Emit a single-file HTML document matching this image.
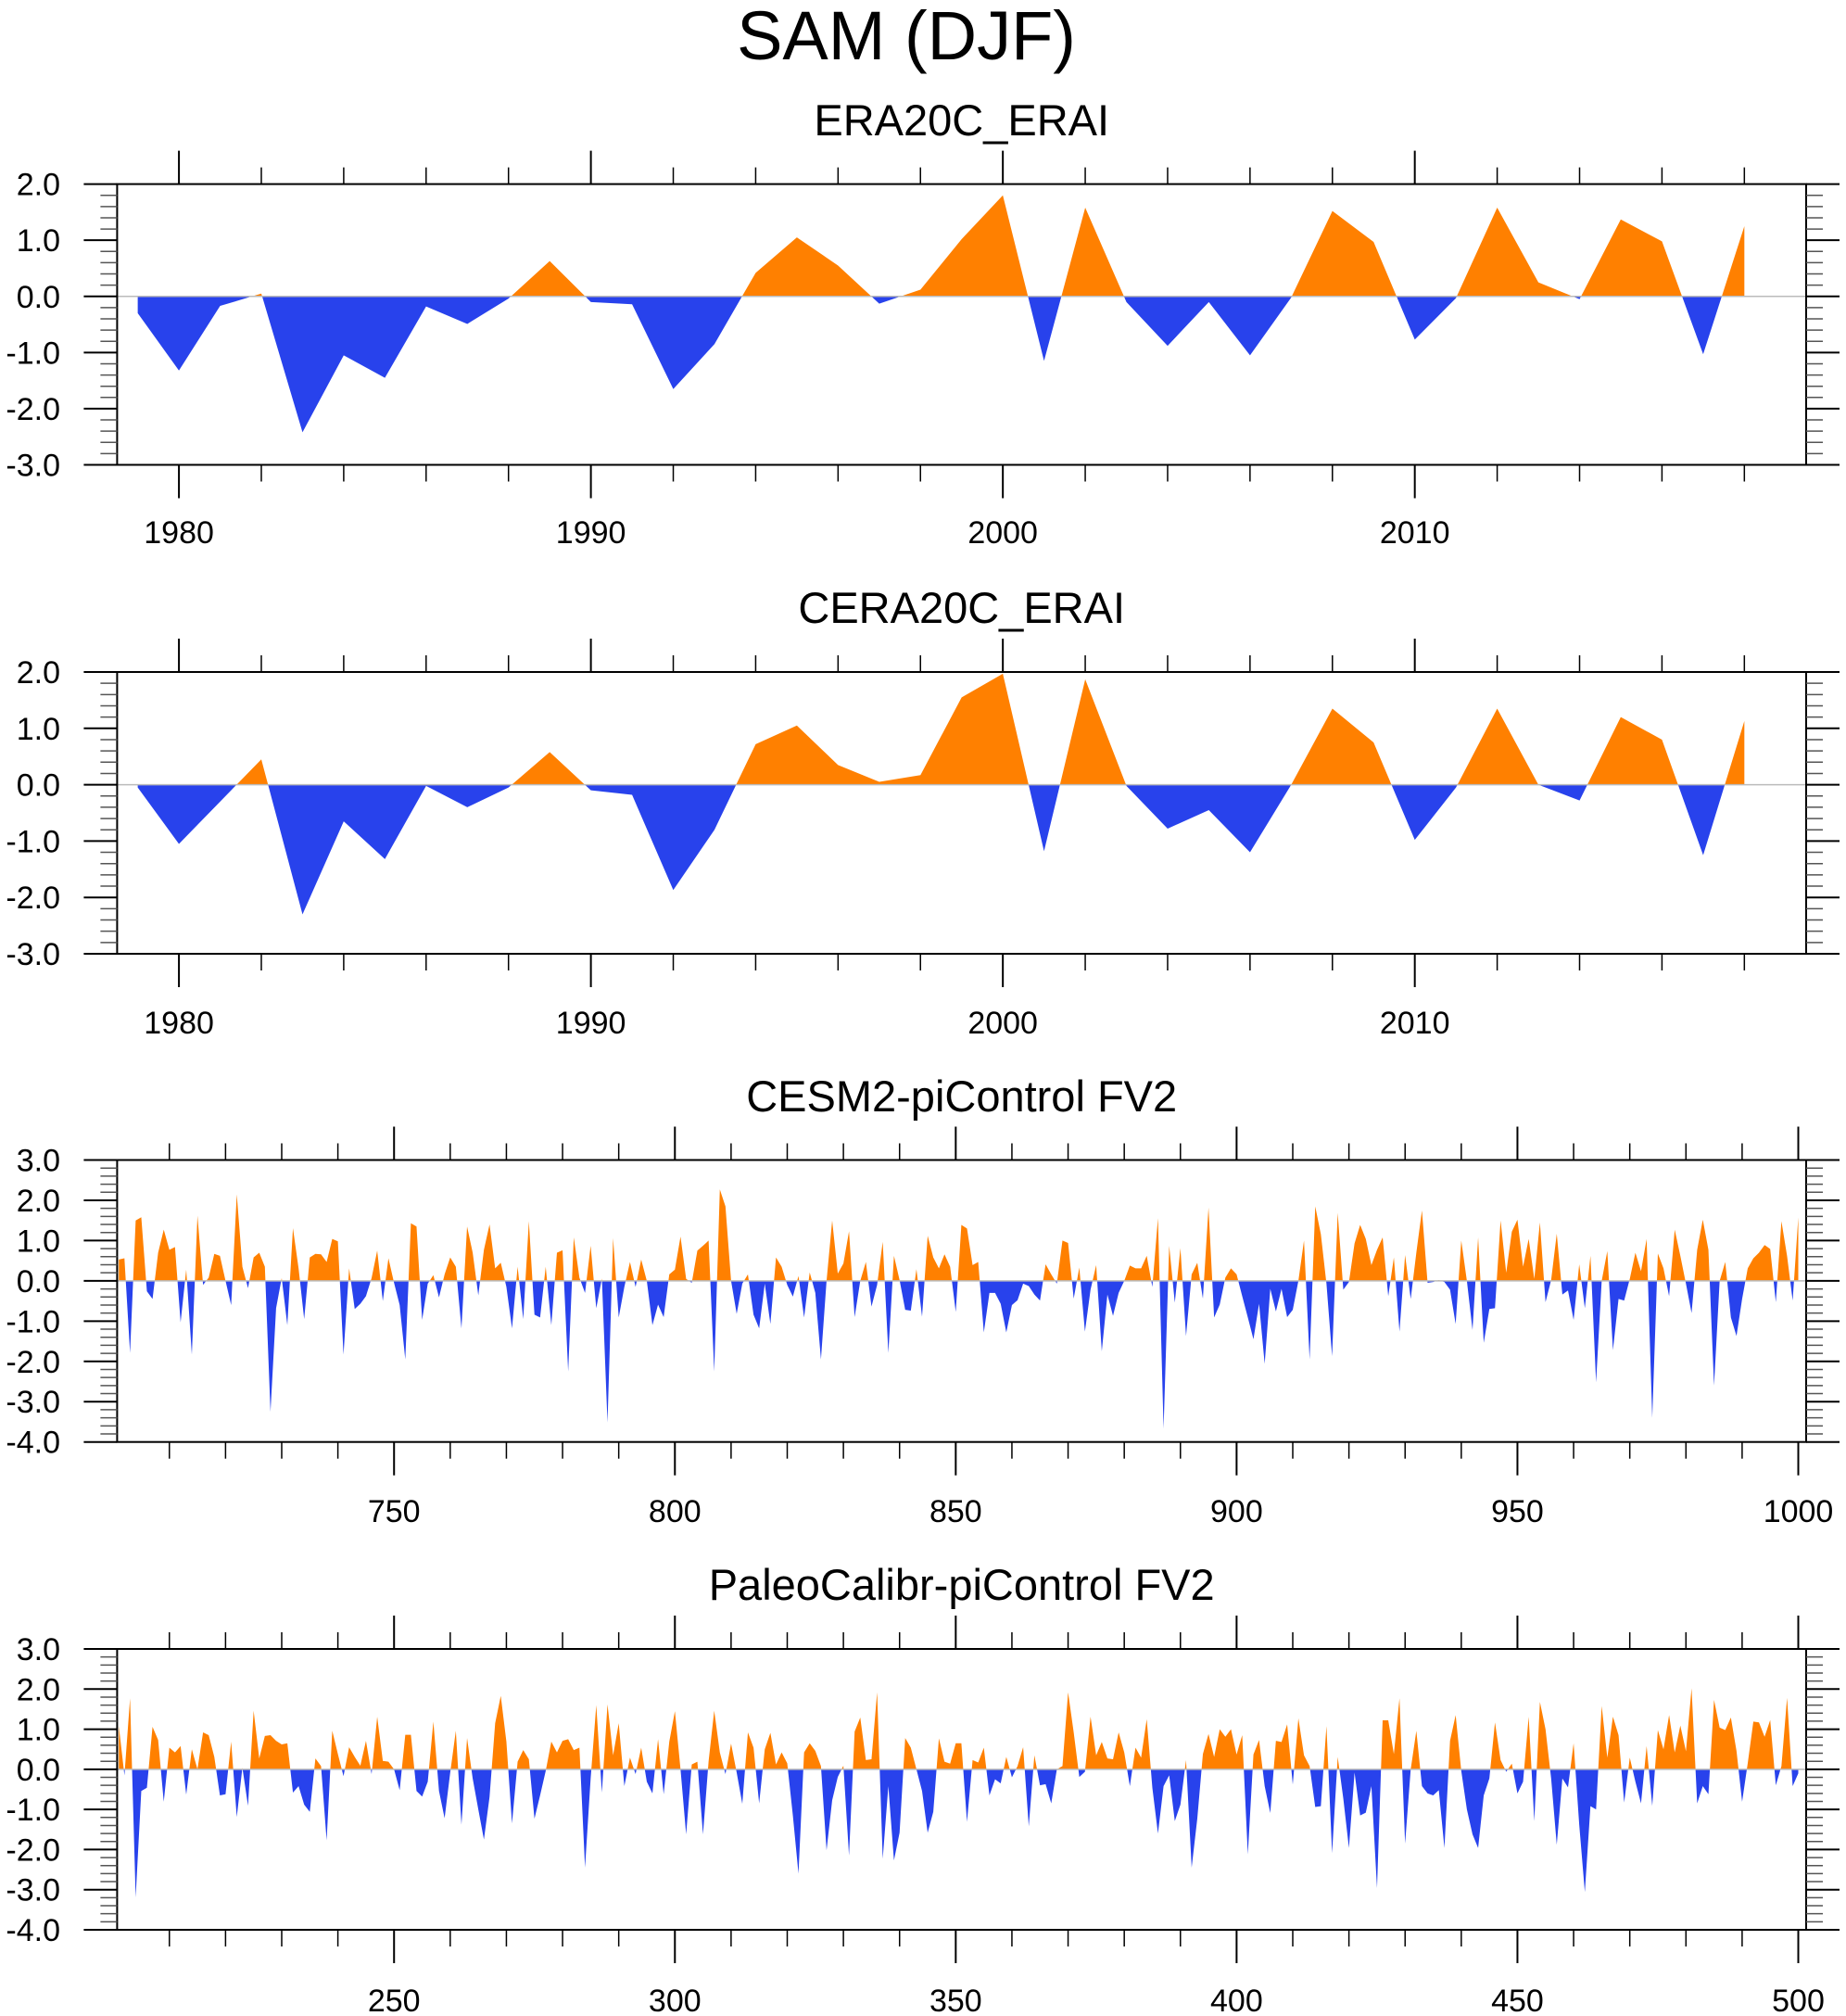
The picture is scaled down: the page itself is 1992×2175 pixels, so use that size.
<!DOCTYPE html>
<html><head><meta charset="utf-8">
<style>
html,body{margin:0;padding:0;background:#fff;}
svg{display:block;font-family:"Liberation Sans",sans-serif;}
</style></head>
<body>
<svg id="chart" width="1992" height="2175" viewBox="0 0 1992 2175" xmlns="http://www.w3.org/2000/svg">
<text x="978" y="64" font-size="74" text-anchor="middle">SAM (DJF)</text>
</svg>
<script>
const titles = ["ERA20C_ERAI", "CERA20C_ERAI", "CESM2-piControl FV2", "PaleoCalibr-piControl FV2"];
const yearsA = [1979,1980,1981,1982,1983,1984,1985,1986,1987,1988,1989,1990,1991,1992,1993,1994,1995,1996,1997,1998,1999,2000,2001,2002,2003,2004,2005,2006,2007,2008,2009,2010,2011,2012,2013,2014,2015,2016,2017,2018];
const era20c = [-0.3,-1.32,-0.17,0.05,-2.42,-1.05,-1.45,-0.18,-0.49,-0.04,0.63,-0.1,-0.14,-1.65,-0.85,0.42,1.05,0.55,-0.13,0.12,1.02,1.8,-1.15,1.58,-0.1,-0.88,-0.1,-1.05,-0.02,1.52,0.97,-0.77,-0.03,1.58,0.25,-0.05,1.37,0.98,-1.03,1.25];
const cera20c = [-0.05,-1.05,-0.3,0.45,-2.3,-0.65,-1.32,-0.02,-0.4,-0.05,0.58,-0.1,-0.18,-1.87,-0.8,0.72,1.05,0.35,0.05,0.17,1.55,1.97,-1.18,1.87,-0.02,-0.78,-0.45,-1.2,0.0,1.35,0.75,-0.98,-0.05,1.35,0.0,-0.28,1.2,0.8,-1.25,1.13];
const cesm2 = [0.53,0.56,-1.79,1.5,1.58,-0.26,-0.45,0.7,1.27,0.77,0.84,-1.03,0.28,-1.83,1.62,-0.1,0.08,0.67,0.62,0,-0.6,2.15,0.35,-0.18,0.58,0.7,0.35,-3.25,-0.68,0.07,-1.1,1.31,0.31,-0.95,0.58,0.67,0.66,0.47,1.04,0.98,-1.83,0.31,-0.7,-0.57,-0.38,0.07,0.75,-0.5,0.56,-0.05,
-0.6,-1.95,1.43,1.35,-0.97,-0.07,0.14,-0.41,0.16,0.58,0.35,-1.18,1.35,0.7,-0.36,0.77,1.4,0.31,0.45,-0.15,-1.18,0.35,-0.95,1.48,-0.84,-0.91,0.35,-1.1,0.7,0.76,-2.25,1.08,0.08,-0.3,0.87,-0.68,0.06,-3.52,1.06,-0.91,-0.15,0.47,-0.15,0.53,0,-1.1,-0.59,-0.9,0.16,0.28,
1.1,0.05,-0.05,0.75,0.87,1.0,-2.25,2.27,1.85,0,-0.82,-0.07,0.16,-0.84,-1.18,-0.07,-1.07,0.58,0.35,-0.1,-0.39,0.12,-0.91,0.21,-0.3,-1.95,0,1.5,0.18,0.43,1.23,-0.9,0,0.47,-0.64,-0.1,0.97,-1.79,0.62,0.02,-0.72,-0.74,0.29,-0.89,1.12,0.58,0.31,0.66,0.35,-0.77,
1.39,1.3,0.39,0.47,-1.28,-0.3,-0.3,-0.57,-1.28,-0.6,-0.48,-0.07,-0.13,-0.34,-0.49,0.41,0.16,-0.07,1.0,0.94,-0.44,0.33,-1.26,-0.22,0.39,-1.75,-0.34,-0.87,-0.3,0,0.38,0.31,0.31,0.62,-0.15,1.56,-3.67,0.87,-0.54,0.81,-1.37,0.16,0.45,-0.44,1.82,-0.91,-0.59,0.08,0.31,0.16,
-0.38,-0.91,-1.45,-0.57,-2.06,-0.2,-0.76,-0.2,-0.9,-0.72,0.0,1.0,-1.95,1.85,1.16,-0.07,-1.87,1.69,-0.22,-0.03,0.93,1.39,1.04,0.39,0.77,1.08,-0.38,0.58,-1.26,0.64,-0.45,0.7,1.75,-0.05,-0.03,0.02,-0.03,-0.22,-1.07,1.0,0,-1.22,1.08,-1.54,-0.7,-0.68,1.5,0.2,1.22,1.52,
0.35,1.04,0.05,1.45,-0.53,0.02,1.17,-0.34,-0.24,-0.97,0.41,-0.68,0.62,-2.52,0,0.74,-1.72,-0.45,-0.49,0.05,0.7,0.24,1.04,-3.4,0.68,0.31,-0.38,1.27,0.62,-0.07,-0.8,0.77,1.52,0.77,-2.6,0,0.47,-0.91,-1.37,-0.45,0.31,0.56,0.7,0.89,0.79,-0.53,1.48,0.62,-0.49,1.58];
const paleo = [1.08,-0.15,1.77,-3.19,-0.54,-0.46,1.06,0.73,-0.81,0.54,0.42,0.58,-0.63,0.5,0,0.92,0.85,0.31,-0.65,-0.62,0.69,-1.19,0.04,-0.91,1.46,0.27,0.83,0.85,0.71,0.62,0.65,-0.58,-0.42,-0.88,-1.06,0.27,0.08,-1.77,0.96,0.38,-0.17,0.55,0.31,0.09,0.71,-0.12,1.31,0.21,0.19,0,
-0.52,0.86,0.86,-0.54,-0.68,-0.31,1.19,-0.54,-1.22,-0.08,0.96,-1.38,0.78,-0.23,-1.0,-1.75,-0.69,1.15,1.83,0.69,-1.35,0.19,0.48,0.25,-1.23,-0.65,-0.04,0.69,0.42,0.71,0.75,0.48,0.54,-2.45,-0.23,1.6,-0.58,1.62,0.35,1.15,-0.42,0.29,-0.12,0.54,-0.31,-0.6,0.75,-0.62,0.69,1.45,
0.0,-1.62,0.12,0.19,-1.62,0.2,1.46,0.42,-0.12,0.64,-0.08,-0.86,0.92,0.54,-0.85,0.5,0.91,0.12,0.42,0.15,-1.15,-2.6,0.42,0.65,0.46,0.08,-2.02,-0.77,-0.19,0.09,-2.15,0.94,1.29,0.23,0.25,1.92,-2.23,-0.42,-2.27,-1.58,0.78,0.54,0,-0.54,-1.58,-1.06,0.77,0.19,0.14,0.65,
0.65,-1.31,0.23,0.17,0.54,-0.65,-0.25,-0.35,0.31,-0.2,0.08,0.55,-1.42,0.35,-0.4,-0.37,-0.85,0,0.08,1.92,0.92,-0.19,-0.06,1.31,0.35,0.68,0.27,0.25,0.92,0.42,-0.42,0.54,0.29,1.25,-0.46,-1.6,-0.42,-0.15,-1.29,-0.88,0.23,-2.45,-1.23,0.38,0.88,0.31,1.0,0.81,1.0,0.37,
0.85,-2.12,0.37,0.73,-0.42,-1.09,0.71,0.68,1.12,-0.38,1.27,0.35,0.08,-0.94,-0.92,1.08,-2.09,0.31,-0.73,-1.96,-0.08,-1.15,-1.08,-0.42,-2.96,1.22,1.22,0.38,1.77,-1.85,0,0.96,-0.42,-0.6,-0.65,-0.52,-1.96,0.71,1.35,-0.04,-1.0,-1.62,-1.96,-0.65,-0.23,1.17,0.23,-0.06,0.14,-0.6,
-0.31,1.31,-1.29,1.68,1.0,-0.23,-1.88,-0.23,-0.45,0.65,-1.38,-3.06,-0.92,-1.0,1.58,0.29,1.31,0.85,-0.83,0.29,-0.31,-0.85,0.58,-0.91,0.98,0.5,1.35,0.42,1.09,0.45,2.02,-0.85,-0.42,-0.62,1.73,1.04,0.98,1.29,0.46,-0.81,0.15,1.19,1.17,0.81,1.23,-0.4,0.08,1.78,-0.42,-0.1];
const yTicksA = [2.0,1.0,0.0,-1.0,-2.0,-3.0];
const yTicksB = [3.0,2.0,1.0,0.0,-1.0,-2.0,-3.0,-4.0];
const xLabelsA = [1980,1990,2000,2010];
const xLabelsC = [750,800,850,900,950,1000];
const xLabelsD = [250,300,350,400,450,500];

const NS = "http://www.w3.org/2000/svg";
const svg = document.getElementById('chart');
function mk(tag, attrs, parent) {
  const e = document.createElementNS(NS, tag);
  for (const k in attrs) e.setAttribute(k, attrs[k]);
  (parent || svg).appendChild(e);
  return e;
}
const L = 126.4, R = 1949;
const ORANGE = "#ff8000", BLUE = "#2842ec";

function panel(idx, cfg) {
  const g = mk('g', {});
  
  
  const T = cfg.top, B = cfg.bot;
  const ymax = cfg.yTicks[0], ymin = cfg.yTicks[cfg.yTicks.length - 1];
  const sx = v => L + (v - cfg.xmin) / (cfg.xmax - cfg.xmin) * (R - L);
  const sy = v => T + (ymax - v) / (ymax - ymin) * (B - T);
  const t = mk('text', {x: (L + R) / 2, y: cfg.titleY, 'font-size': 47, 'text-anchor': 'middle'}, g);
  t.textContent = titles[idx];
  
  
  const y0 = sy(0);
  const cidA = 'ca' + idx, cidB = 'cb' + idx;
  const defs = mk('defs', {}, g);
  const c1 = mk('clipPath', {id: cidA}, defs); mk('rect', {x: L, y: T, width: R - L, height: y0 - T}, c1);
  const c2 = mk('clipPath', {id: cidB}, defs); mk('rect', {x: L, y: y0, width: R - L, height: B - y0}, c2);
  let pts = [[sx(cfg.xs[0]), y0]];
  cfg.vals.forEach((v, i) => pts.push([sx(cfg.xs[i]), sy(v)]));
  pts.push([sx(cfg.xs[cfg.xs.length - 1]), y0]);
  const ps = pts.map(p => p[0].toFixed(2) + ',' + p[1].toFixed(2)).join(' ');
  const pa = mk('polygon', {points: ps, fill: ORANGE, 'clip-path': 'url(#' + cidA + ')'}, g);
  
  
  const pb = mk('polygon', {points: ps, fill: BLUE, 'clip-path': 'url(#' + cidB + ')'}, g);
  
  
  const zl = mk('line', {x1: L, x2: R, y1: y0, y2: y0, stroke: '#bbbbbb', 'stroke-width': 1.5}, g);
  
  
  const fr = mk('rect', {x: L, y: T, width: R - L, height: B - T, fill: 'none', stroke: '#000', 'stroke-width': 2}, g);
  
  
  for (let i = 0; i < cfg.yTicks.length; i++) {
    const v = cfg.yTicks[i], y = sy(v);
    mk('line', {x1: L - 36, x2: L, y1: y, y2: y, stroke: '#000', 'stroke-width': 2}, g);
    mk('line', {x1: R, x2: R + 36, y1: y, y2: y, stroke: '#000', 'stroke-width': 2}, g);
    const lb = mk('text', {x: 65, y: y + 12, 'font-size': 34, 'text-anchor': 'end'}, g);
    lb.textContent = v.toFixed(1);
    
    
    if (i < cfg.yTicks.length - 1) {
      for (let m = 1; m < 5; m++) {
        const ym = sy(v - m * 0.2);
        mk('line', {x1: L - 18, x2: L, y1: ym, y2: ym, stroke: '#555', 'stroke-width': 1.5}, g);
        mk('line', {x1: R, x2: R + 18, y1: ym, y2: ym, stroke: '#555', 'stroke-width': 1.5}, g);
      }
    }
  }
  for (let v = cfg.minorStart; v <= cfg.xmax; v += cfg.minorStep) {
    const x = sx(v);
    const major = cfg.xLabels.indexOf(v) >= 0;
    const len = major ? 36 : 18;
    mk('line', {x1: x, x2: x, y1: T - len, y2: T, stroke: '#000', 'stroke-width': major ? 2 : 1.5}, g);
    mk('line', {x1: x, x2: x, y1: B, y2: B + len, stroke: '#000', 'stroke-width': major ? 2 : 1.5}, g);
  }
  cfg.xLabels.forEach(v => {
    const lb = mk('text', {x: sx(v), y: cfg.xLabelY, 'font-size': 34, 'text-anchor': 'middle'}, g);
    lb.textContent = String(v);
    
    
  });
}
const yrsC = cesm2.map((v, i) => 701 + i);
const yrsD = paleo.map((v, i) => 201 + i);
panel(0, {top: 198.6, bot: 501.5, titleY: 146, xLabelY: 586, xmin: 1978.5, xmax: 2019.5, xs: yearsA, vals: era20c, yTicks: yTicksA, xLabels: xLabelsA, minorStart: 1980, minorStep: 2});
panel(1, {top: 725, bot: 1029, titleY: 672, xLabelY: 1115, xmin: 1978.5, xmax: 2019.5, xs: yearsA, vals: cera20c, yTicks: yTicksA, xLabels: xLabelsA, minorStart: 1980, minorStep: 2});
panel(2, {top: 1251.5, bot: 1555.7, titleY: 1199, xLabelY: 1642, xmin: 700.7, xmax: 1001.4, xs: yrsC, vals: cesm2, yTicks: yTicksB, xLabels: xLabelsC, minorStart: 710, minorStep: 10});
panel(3, {top: 1779, bot: 2082, titleY: 1726, xLabelY: 2170, xmin: 200.7, xmax: 501.4, xs: yrsD, vals: paleo, yTicks: yTicksB, xLabels: xLabelsD, minorStart: 210, minorStep: 10});
</script>
</body></html>
